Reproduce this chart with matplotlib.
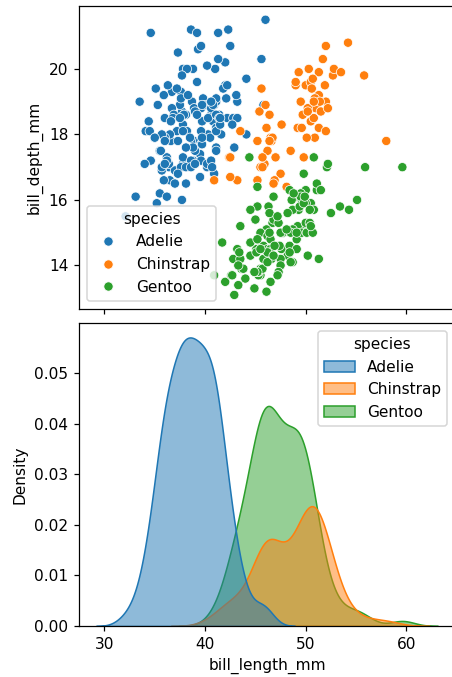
import matplotlib
matplotlib.use("Agg")
import matplotlib.pyplot as plt
import numpy as np
import pandas as pd
import seaborn as sns

species_order = ["Adelie", "Chinstrap", "Gentoo"]

adelie_length = [39.1, 39.5, 40.3, 36.7, 39.3, 38.9, 39.2, 34.1, 42.0, 37.8, 37.8, 41.1, 38.6, 34.6, 36.6,
                 38.7, 42.5, 34.4, 46.0, 37.8, 37.7, 35.9, 38.2, 38.8, 35.3, 40.6, 40.5, 37.9, 40.5, 39.5,
                 37.2, 39.5, 40.9, 36.4, 39.2, 38.8, 42.2, 37.6, 39.8, 36.5, 40.8, 36.0, 44.1, 37.0, 39.6,
                 41.1, 37.5, 36.0, 42.3, 39.6, 40.1, 35.0, 42.0, 34.5, 41.4, 39.0, 40.6, 36.5, 37.6, 35.7,
                 41.3, 37.6, 41.1, 36.4, 41.6, 35.5, 41.1, 35.9, 41.8, 33.5, 39.7, 39.6, 45.8, 35.5, 42.8,
                 40.9, 37.2, 36.2, 42.1, 34.6, 42.9, 36.7, 35.1, 37.3, 41.3, 36.3, 36.9, 38.3, 38.9, 35.7,
                 41.1, 34.0, 39.6, 36.2, 40.8, 38.1, 40.3, 33.1, 43.2, 35.0, 41.0, 37.7, 37.8, 37.9, 39.7,
                 38.6, 38.2, 38.1, 43.2, 38.1, 45.6, 39.7, 42.2, 39.6, 42.7, 38.6, 37.3, 35.7, 41.1, 36.2,
                 37.7, 40.2, 41.4, 35.2, 40.6, 38.8, 41.5, 39.0, 44.1, 38.5, 43.1, 36.8, 37.5, 38.1, 41.1,
                 35.6, 40.2, 37.0, 39.7, 40.2, 40.6, 32.1, 40.7, 37.3, 39.0, 39.2, 36.6, 36.0, 37.8, 36.0,
                 41.5]
adelie_depth = [18.7, 17.4, 18.0, 19.3, 20.6, 17.8, 19.6, 18.1, 20.2, 17.1, 17.3, 17.6, 21.2, 21.1, 17.8,
                19.0, 20.7, 18.4, 21.5, 18.3, 18.7, 19.2, 18.1, 17.2, 18.9, 18.6, 17.9, 18.6, 18.9, 16.7,
                18.1, 17.8, 18.9, 17.0, 21.1, 20.0, 18.5, 19.3, 19.1, 18.0, 18.4, 18.5, 19.7, 16.9, 18.8,
                19.0, 18.9, 17.9, 21.2, 17.7, 18.9, 17.9, 19.5, 18.1, 18.6, 17.5, 18.8, 16.6, 19.1, 16.9,
                21.1, 17.0, 18.2, 17.1, 18.0, 16.2, 19.1, 16.6, 19.4, 19.0, 18.4, 17.2, 18.9, 17.5, 18.5,
                16.8, 19.4, 16.1, 19.1, 17.2, 17.6, 18.8, 19.4, 17.8, 20.3, 19.5, 18.6, 19.2, 18.8, 18.0,
                18.1, 17.1, 18.1, 17.3, 18.9, 18.6, 18.5, 16.1, 18.5, 17.9, 20.0, 16.0, 20.0, 18.6, 18.9,
                17.2, 20.0, 17.0, 19.0, 16.5, 20.3, 17.7, 19.5, 20.7, 18.3, 17.0, 20.5, 17.0, 18.6, 17.2,
                19.8, 17.0, 18.5, 15.9, 19.0, 17.6, 18.3, 17.1, 18.0, 17.9, 19.2, 18.5, 18.5, 17.6, 17.5,
                17.5, 20.1, 16.5, 17.9, 17.1, 17.2, 15.5, 17.0, 16.8, 18.7, 18.6, 18.4, 17.8, 18.1, 17.1,
                18.5]

chinstrap_length = [46.5, 50.0, 51.3, 45.4, 52.7, 45.2, 46.1, 51.3, 46.0, 51.3, 46.6, 51.7, 47.0, 52.0, 45.9,
                    50.5, 50.3, 58.0, 46.4, 49.2, 42.4, 48.5, 43.2, 50.6, 46.7, 52.0, 50.5, 49.5, 46.4, 52.8,
                    40.9, 54.2, 42.5, 51.0, 49.7, 47.5, 47.6, 52.0, 46.9, 53.5, 49.0, 46.2, 50.9, 45.5, 50.9,
                    50.8, 50.1, 49.0, 51.5, 49.8, 48.1, 51.4, 45.7, 50.7, 42.5, 52.2, 45.2, 49.3, 50.2, 45.6,
                    51.9, 46.8, 45.7, 55.8, 43.5, 49.6, 50.8, 50.2]
chinstrap_depth = [17.9, 19.5, 19.2, 18.7, 19.8, 17.8, 18.2, 18.2, 18.9, 19.9, 17.8, 20.3, 17.3, 18.1, 17.1,
                   19.6, 20.0, 17.8, 18.6, 18.2, 17.3, 17.5, 16.6, 19.4, 17.9, 19.0, 18.4, 19.0, 17.8, 20.0,
                   16.6, 20.8, 16.7, 18.8, 18.6, 16.8, 18.3, 20.7, 16.6, 19.9, 19.5, 17.5, 19.1, 17.0, 17.9,
                   18.5, 17.9, 19.6, 18.7, 17.3, 16.4, 19.0, 17.3, 19.7, 17.3, 18.8, 16.6, 19.9, 18.8, 19.4,
                   19.5, 16.5, 17.0, 19.8, 18.1, 18.2, 19.0, 18.7]

gentoo_length = [46.1, 50.0, 48.7, 50.0, 47.6, 46.5, 45.4, 46.7, 43.3, 46.8, 40.9, 49.0, 45.5, 48.4, 45.8,
                 49.3, 42.0, 49.2, 46.2, 48.7, 50.2, 45.1, 46.5, 46.3, 42.9, 46.1, 44.5, 47.8, 48.2, 50.0,
                 47.3, 42.8, 45.1, 59.6, 49.1, 48.4, 42.6, 44.4, 44.0, 48.7, 42.7, 49.6, 45.3, 49.6, 50.5,
                 43.6, 45.5, 50.5, 44.9, 45.2, 46.6, 48.5, 45.1, 50.1, 46.5, 45.0, 43.8, 45.5, 43.2, 50.4,
                 45.3, 46.2, 45.7, 54.3, 45.8, 49.8, 46.2, 49.5, 43.5, 50.7, 47.7, 46.4, 48.2, 46.5, 46.4,
                 48.6, 47.5, 51.1, 45.2, 45.2, 49.1, 52.5, 47.4, 50.0, 44.9, 50.8, 43.4, 51.3, 47.5, 52.1,
                 47.5, 52.2, 45.5, 49.5, 44.5, 50.8, 49.4, 46.9, 48.4, 51.1, 48.5, 55.9, 47.2, 49.1, 47.3,
                 46.8, 41.7, 53.4, 43.3, 48.1, 50.5, 49.8, 43.5, 51.5, 46.2, 55.1, 44.5, 48.8, 47.2, 46.8,
                 50.4, 45.2, 49.9]
gentoo_depth = [13.2, 16.3, 14.1, 15.2, 14.5, 13.5, 14.6, 15.3, 13.4, 15.4, 13.7, 16.1, 13.7, 14.6, 14.6,
                15.7, 13.5, 15.2, 14.5, 15.1, 14.3, 14.5, 14.5, 15.8, 13.1, 15.1, 14.3, 15.0, 14.3, 15.3,
                15.3, 14.2, 14.5, 17.0, 14.8, 16.3, 13.7, 17.3, 13.6, 15.7, 13.7, 16.0, 13.7, 15.0, 15.9,
                13.9, 13.9, 15.9, 13.3, 15.8, 14.2, 14.1, 14.4, 15.0, 14.4, 15.4, 13.9, 15.0, 14.5, 15.3,
                13.8, 14.9, 13.9, 15.7, 14.2, 16.8, 14.4, 16.2, 14.2, 15.0, 15.0, 15.6, 15.6, 14.8, 15.0,
                16.0, 14.2, 16.3, 13.8, 16.4, 14.5, 15.6, 14.6, 15.9, 13.8, 17.3, 14.4, 14.2, 14.0, 17.0,
                15.0, 17.1, 14.5, 16.1, 14.7, 15.7, 15.8, 14.6, 14.4, 16.5, 15.0, 17.0, 15.5, 15.0, 13.8,
                16.1, 14.7, 15.8, 14.0, 15.1, 15.2, 15.9, 15.2, 16.3, 14.1, 16.0, 15.7, 16.2, 13.7, 14.3,
                15.7, 14.8, 16.1]

x_ticks = [30, 40, 50, 60]
depth_ticks = [14, 16, 18, 20]

lengths = [adelie_length, chinstrap_length, gentoo_length]
depths = [adelie_depth, chinstrap_depth, gentoo_depth]
frames = []
for name, xl, yd in zip(species_order, lengths, depths):
    n = min(len(xl), len(yd))
    frames.append(pd.DataFrame({"species": [name] * n,
                                "bill_length_mm": xl[:n],
                                "bill_depth_mm": yd[:n]}))
df = pd.concat(frames, ignore_index=True)

DPI = 111
W, H = 452.0, 677.0
fig, (ax1, ax2) = plt.subplots(2, 1, sharex=True, figsize=(W / DPI, H / DPI), dpi=DPI)

sns.scatterplot(data=df, x="bill_length_mm", y="bill_depth_mm", hue="species",
                hue_order=species_order, ax=ax1)
sns.kdeplot(data=df, x="bill_length_mm", hue="species", hue_order=species_order,
            fill=True, alpha=0.5, ax=ax2)

sns.move_legend(ax1, "lower left")
sns.move_legend(ax2, "upper right")
ax1.set_xlabel("")
ax1.set_yticks(depth_ticks)
ax2.set_xticks(x_ticks)

left = 79 / W
right = 455 / W
ax1.set_position([left, 1 - 308.7 / H, right - left, (308.7 - 6) / H])
ax2.set_position([left, 1 - 626 / H, right - left, (626 - 323) / H])

fig.savefig("out.png", dpi=DPI)
